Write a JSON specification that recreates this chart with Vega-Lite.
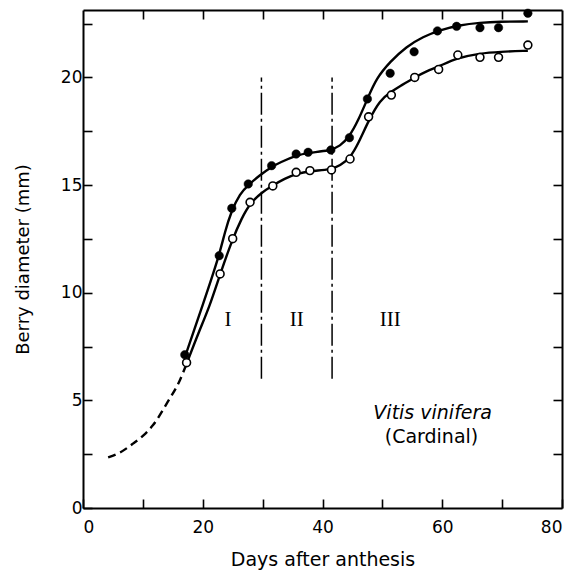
{
  "$schema": "https://vega.github.io/schema/vega-lite/v6.json",
  "width": 479,
  "height": 498,
  "autosize": {"type": "none"},
  "padding": {"left": 83, "top": 10, "right": 11, "bottom": 66},
  "background": "white",
  "config": {
    "view": {"stroke": null},
    "axis": {"grid": false, "domainColor": "black", "domainWidth": 2, "tickColor": "black", "tickWidth": 1.6, "labelColor": "black", "titleColor": "black", "labelFont": "DejaVu Sans", "titleFont": "DejaVu Sans", "titleFontWeight": "normal", "labelFontSize": 17}
  },
  "datasets": {
    "curves": [
      {"series": "filled", "day": 17.0, "mm": 7.0},
      {"series": "filled", "day": 20.1, "mm": 9.51},
      {"series": "filled", "day": 22.75, "mm": 11.72},
      {"series": "filled", "day": 23.7, "mm": 12.83},
      {"series": "filled", "day": 24.8, "mm": 13.8},
      {"series": "filled", "day": 26.2, "mm": 14.6},
      {"series": "filled", "day": 27.6, "mm": 15.0},
      {"series": "filled", "day": 29.5, "mm": 15.45},
      {"series": "filled", "day": 31.5, "mm": 15.85},
      {"series": "filled", "day": 32.9, "mm": 16.05},
      {"series": "filled", "day": 35.6, "mm": 16.38},
      {"series": "filled", "day": 37.6, "mm": 16.5},
      {"series": "filled", "day": 41.3, "mm": 16.6},
      {"series": "filled", "day": 42.9, "mm": 16.8},
      {"series": "filled", "day": 44.5, "mm": 17.25},
      {"series": "filled", "day": 46.0, "mm": 18.02},
      {"series": "filled", "day": 47.5, "mm": 19.0},
      {"series": "filled", "day": 49.0, "mm": 19.96},
      {"series": "filled", "day": 51.3, "mm": 20.73},
      {"series": "filled", "day": 54.0, "mm": 21.43},
      {"series": "filled", "day": 56.8, "mm": 21.89},
      {"series": "filled", "day": 59.6, "mm": 22.2},
      {"series": "filled", "day": 62.9, "mm": 22.43},
      {"series": "filled", "day": 66.3, "mm": 22.54},
      {"series": "filled", "day": 69.6, "mm": 22.59},
      {"series": "filled", "day": 74.3, "mm": 22.6},
      {"series": "open", "day": 17.4, "mm": 6.77},
      {"series": "open", "day": 19.3, "mm": 8.15},
      {"series": "open", "day": 21.2, "mm": 9.4},
      {"series": "open", "day": 22.9, "mm": 10.87},
      {"series": "open", "day": 25.0, "mm": 12.51},
      {"series": "open", "day": 26.5, "mm": 13.46},
      {"series": "open", "day": 27.9, "mm": 14.15},
      {"series": "open", "day": 29.8, "mm": 14.65},
      {"series": "open", "day": 31.7, "mm": 14.98},
      {"series": "open", "day": 33.7, "mm": 15.3},
      {"series": "open", "day": 35.6, "mm": 15.52},
      {"series": "open", "day": 37.9, "mm": 15.65},
      {"series": "open", "day": 41.5, "mm": 15.72},
      {"series": "open", "day": 42.9, "mm": 15.9},
      {"series": "open", "day": 44.6, "mm": 16.25},
      {"series": "open", "day": 46.0, "mm": 16.94},
      {"series": "open", "day": 47.7, "mm": 18.0},
      {"series": "open", "day": 49.6, "mm": 18.95},
      {"series": "open", "day": 51.5, "mm": 19.35},
      {"series": "open", "day": 53.0, "mm": 19.6},
      {"series": "open", "day": 55.4, "mm": 20.0},
      {"series": "open", "day": 57.4, "mm": 20.3},
      {"series": "open", "day": 59.4, "mm": 20.5},
      {"series": "open", "day": 62.4, "mm": 20.9},
      {"series": "open", "day": 66.3, "mm": 21.12},
      {"series": "open", "day": 69.6, "mm": 21.19},
      {"series": "open", "day": 74.3, "mm": 21.24}
    ],
    "early": [
      {"day": 4.2, "mm": 2.35},
      {"day": 6.0, "mm": 2.55},
      {"day": 8.4, "mm": 3.0},
      {"day": 10.0, "mm": 3.35},
      {"day": 11.7, "mm": 3.85},
      {"day": 14.0, "mm": 4.86},
      {"day": 16.2, "mm": 5.95},
      {"day": 17.4, "mm": 6.77}
    ],
    "filledPts": [
      {"day": 17.0, "mm": 7.12},
      {"day": 22.75, "mm": 11.72},
      {"day": 24.85, "mm": 13.92},
      {"day": 27.6, "mm": 15.05},
      {"day": 31.5, "mm": 15.9},
      {"day": 35.6, "mm": 16.44},
      {"day": 37.6, "mm": 16.52},
      {"day": 41.4, "mm": 16.63},
      {"day": 44.5, "mm": 17.2},
      {"day": 47.5, "mm": 19.0},
      {"day": 51.3, "mm": 20.19},
      {"day": 55.3, "mm": 21.19},
      {"day": 59.2, "mm": 22.16},
      {"day": 62.4, "mm": 22.37},
      {"day": 66.3, "mm": 22.31},
      {"day": 69.4, "mm": 22.31},
      {"day": 74.3, "mm": 22.98}
    ],
    "openPts": [
      {"day": 17.3, "mm": 6.75},
      {"day": 22.9, "mm": 10.87},
      {"day": 25.0, "mm": 12.51},
      {"day": 27.9, "mm": 14.2},
      {"day": 31.7, "mm": 14.96},
      {"day": 35.6, "mm": 15.59},
      {"day": 37.9, "mm": 15.67},
      {"day": 41.5, "mm": 15.7},
      {"day": 44.6, "mm": 16.21},
      {"day": 47.7, "mm": 18.17},
      {"day": 51.5, "mm": 19.18},
      {"day": 55.4, "mm": 20.0},
      {"day": 59.4, "mm": 20.37},
      {"day": 62.6, "mm": 21.04},
      {"day": 66.3, "mm": 20.93},
      {"day": 69.4, "mm": 20.93},
      {"day": 74.3, "mm": 21.5}
    ],
    "stages": [
      {"day": 29.8, "mm": 6.0, "mm2": 20.0},
      {"day": 41.6, "mm": 6.0, "mm2": 20.0}
    ],
    "numerals": [
      {"day": 24.2, "mm": 8.75, "label": "I"},
      {"day": 35.7, "mm": 8.75, "label": "II"},
      {"day": 51.3, "mm": 8.75, "label": "III"}
    ],
    "species": [
      {"day": 58.4, "mm": 4.4, "label": "Vitis vinifera"}
    ],
    "cultivar": [
      {"day": 58.2, "mm": 3.3, "label": "(Cardinal)"}
    ]
  },
  "resolve": {"axis": {"x": "independent", "y": "independent"}},
  "layer": [
    {
      "data": {"name": "curves"},
      "mark": {"type": "line", "interpolate": "basis", "color": "black", "strokeWidth": 2.4},
      "encoding": {
        "x": {"field": "day", "type": "quantitative", "scale": {"domain": [0, 80], "nice": false, "zero": false},
          "axis": {"orient": "bottom", "values": [0, 10, 20, 30, 40, 50, 60, 70, 80], "tickSize": -9, "labelPadding": 20, "labelExpr": "datum.value % 20 === 0 ? datum.label : ''", "title": "Days after anthesis", "titleFontSize": 19, "titlePadding": 15}},
        "y": {"field": "mm", "type": "quantitative", "scale": {"domain": [0, 23.13], "nice": false, "zero": false},
          "axis": {"orient": "left", "values": [0, 2.5, 5, 7.5, 10, 12.5, 15, 17.5, 20, 22.5], "tickSize": -9, "labelPadding": 10, "labelExpr": "datum.value % 5 === 0 ? datum.label : ''", "title": "Berry diameter (mm)", "titleFontSize": 18, "titlePadding": 28}},
        "detail": {"field": "series", "type": "nominal"}
      }
    },
    {
      "data": {"name": "stages"},
      "mark": {"type": "rule", "color": "black", "strokeWidth": 1.5, "strokeDash": [22, 4, 3, 4]},
      "encoding": {
        "x": {"field": "day", "type": "quantitative", "scale": {"domain": [0, 80], "nice": false, "zero": false},
          "axis": {"orient": "top", "values": [10, 20, 30, 40, 50, 60, 70], "tickSize": -9, "labels": false, "title": null}},
        "y": {"field": "mm", "type": "quantitative", "scale": {"domain": [0, 23.13], "nice": false, "zero": false},
          "axis": {"orient": "right", "values": [2.5, 5, 7.5, 10, 12.5, 15, 17.5, 20, 22.5], "tickSize": -9, "labels": false, "title": null}},
        "y2": {"field": "mm2"}
      }
    },
    {
      "data": {"name": "early"},
      "mark": {"type": "line", "interpolate": "monotone", "color": "black", "strokeWidth": 2.4, "strokeDash": [8, 5]},
      "encoding": {
        "x": {"field": "day", "type": "quantitative", "axis": null},
        "y": {"field": "mm", "type": "quantitative", "axis": null}
      }
    },
    {
      "data": {"name": "filledPts"},
      "mark": {"type": "point", "shape": "circle", "filled": true, "fill": "black", "stroke": "black", "strokeWidth": 0.5, "size": 72, "opacity": 1, "clip": false},
      "encoding": {
        "x": {"field": "day", "type": "quantitative", "axis": null},
        "y": {"field": "mm", "type": "quantitative", "axis": null}
      }
    },
    {
      "data": {"name": "openPts"},
      "mark": {"type": "point", "shape": "circle", "filled": true, "fill": "white", "stroke": "black", "strokeWidth": 1.6, "size": 62, "opacity": 1},
      "encoding": {
        "x": {"field": "day", "type": "quantitative", "axis": null},
        "y": {"field": "mm", "type": "quantitative", "axis": null}
      }
    },
    {
      "data": {"name": "numerals"},
      "mark": {"type": "text", "font": "Liberation Serif", "fontSize": 21, "color": "black", "align": "center", "baseline": "middle"},
      "encoding": {
        "x": {"field": "day", "type": "quantitative", "axis": null},
        "y": {"field": "mm", "type": "quantitative", "axis": null},
        "text": {"field": "label"}
      }
    },
    {
      "data": {"name": "species"},
      "mark": {"type": "text", "font": "DejaVu Sans", "fontStyle": "italic", "fontSize": 19, "color": "black", "align": "center", "baseline": "middle"},
      "encoding": {
        "x": {"field": "day", "type": "quantitative", "axis": null},
        "y": {"field": "mm", "type": "quantitative", "axis": null},
        "text": {"field": "label"}
      }
    },
    {
      "data": {"name": "cultivar"},
      "mark": {"type": "text", "font": "DejaVu Sans", "fontSize": 19, "color": "black", "align": "center", "baseline": "middle"},
      "encoding": {
        "x": {"field": "day", "type": "quantitative", "axis": null},
        "y": {"field": "mm", "type": "quantitative", "axis": null},
        "text": {"field": "label"}
      }
    }
  ]
}
